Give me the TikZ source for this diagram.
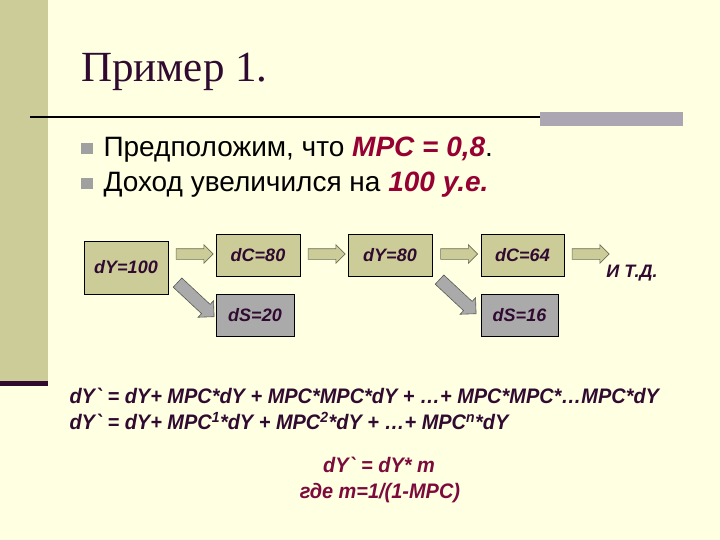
\documentclass[tikz,border=0pt]{standalone}
\usepackage{fontspec}
\setmainfont{Liberation Serif}
\setsansfont{Liberation Sans}
\newfontfamily\narrowsans[FakeStretch=0.95]{Liberation Sans}
\usetikzlibrary{shapes.arrows, calc}
\definecolor{slidebg}{RGB}{255,255,226}
\definecolor{stripolive}{RGB}{204,204,153}
\definecolor{darkplum}{RGB}{48,10,48}
\definecolor{bargray}{RGB}{172,166,178}
\definecolor{bulletgray}{RGB}{160,160,160}
\definecolor{mpcred}{RGB}{150,0,50}
\definecolor{formred}{RGB}{125,10,60}
\definecolor{boxgray}{RGB}{170,170,170}
\definecolor{arrowedge}{RGB}{110,110,90}
\newcommand{\bi}{\bfseries\itshape}

\begin{document}
\begin{tikzpicture}[x=1pt, y=-1pt,
    box/.style={draw, line width=0.8pt, fill=stripolive, minimum width=84pt, minimum height=42pt, inner sep=0pt, font=\sffamily\bi\fontsize{18}{20}\selectfont, text=darkplum},
    sbox/.style={box, fill=boxgray, minimum width=78pt},
    harrow/.style={single arrow, draw=arrowedge, fill=stripolive, line width=0.6pt, minimum height=37pt, inner xsep=0pt, inner ysep=5pt, single arrow head extend=4pt},
    darrow/.style={harrow, fill=boxgray, draw=gray!70!black, minimum height=50pt, inner ysep=6pt, single arrow head extend=5pt},
    bulletsq/.style={fill=bulletgray, minimum width=12pt, minimum height=11pt, inner sep=0pt},
    bullettext/.style={anchor=west, font=\sffamily\fontsize{28}{30}\selectfont},
    formula/.style={font=\narrowsans\bi\fontsize{21}{23}\selectfont, text=darkplum},
]
  % slide background
  \fill[slidebg] (0,0) rectangle (720,540);
  \useasboundingbox (0,0) rectangle (720,540);
  \fill[stripolive] (0,0) rectangle (48,381);
  \fill[darkplum] (0,381) rectangle (48,386);
  \draw[line width=2pt] (30,117) -- (540,117);
  \fill[bargray] (540,112) rectangle (683,126);

  % title and bullets
  \node[anchor=base west, font=\fontsize{43}{46}\selectfont, text=darkplum, inner sep=0pt] (title) at (81,82) {Пример 1.};
  \node[bulletsq] (b1) at (87,149) {};
  \node[bullettext] (t1) at (100,150) {Предположим, что \textcolor{mpcred}{\bi MPC = 0,8}.};
  \node[bulletsq] (b2) at (87,184) {};
  \node[bullettext] (t2) at (100,185) {Доход увеличился на \textcolor{mpcred}{\bi 100 у.е.}};

  % chain of boxes
  \node[box, minimum height=53pt] (y1) at (126,267.5) {dY=100};
  \node[box] (c1) at (258,255) {dC=80};
  \node[sbox] (s1) at (255,315) {dS=20};
  \node[box] (y2) at (390,255) {dY=80};
  \node[box, minimum width=83pt] (c2) at (522.5,255) {dC=64};
  \node[sbox, minimum width=77pt] (s2) at (519.5,315) {dS=16};
  \node[font=\sffamily\bi\fontsize{18}{20}\selectfont, text=darkplum] (etc) at (632,273) {И Т.Д.};

  % block arrows
  \node[harrow] (a1) at ($(y1.east |- 0,254)!0.5!(c1.west |- 0,254)$) {};
  \node[harrow] (a2) at ($(c1.east |- 0,254)!0.5!(y2.west |- 0,254)$) {};
  \node[harrow] (a3) at ($(y2.east |- 0,254)!0.5!(c2.west |- 0,254)$) {};
  \node[harrow] (a4) at (588,254) {};
  \node[darrow, rotate=-43] (d1) at (193.5,297.5) {};
  \node[darrow, rotate=-43] (d2) at (455.5,294.5) {};

  % multiplier formulas
  \node[formula, anchor=west] (f1) at (66,396) {dY\textasciigrave\ = dY+ MPC*dY + MPC*MPC*dY + …+ MPC*MPC*…MPC*dY};
  \node[formula, anchor=west] (f2) at (66,421) {dY\textasciigrave\ = dY+ MPC\textsuperscript{1}*dY + MPC\textsuperscript{2}*dY + …+ MPC\textsuperscript{n}*dY};
  \node[formula, text=formred] (f3) at (379,465) {dY\textasciigrave\ = dY* m};
  \node[formula, text=formred] (f4) at (380,493) {где m=1/(1-MPC)};
\end{tikzpicture}
\end{document}
